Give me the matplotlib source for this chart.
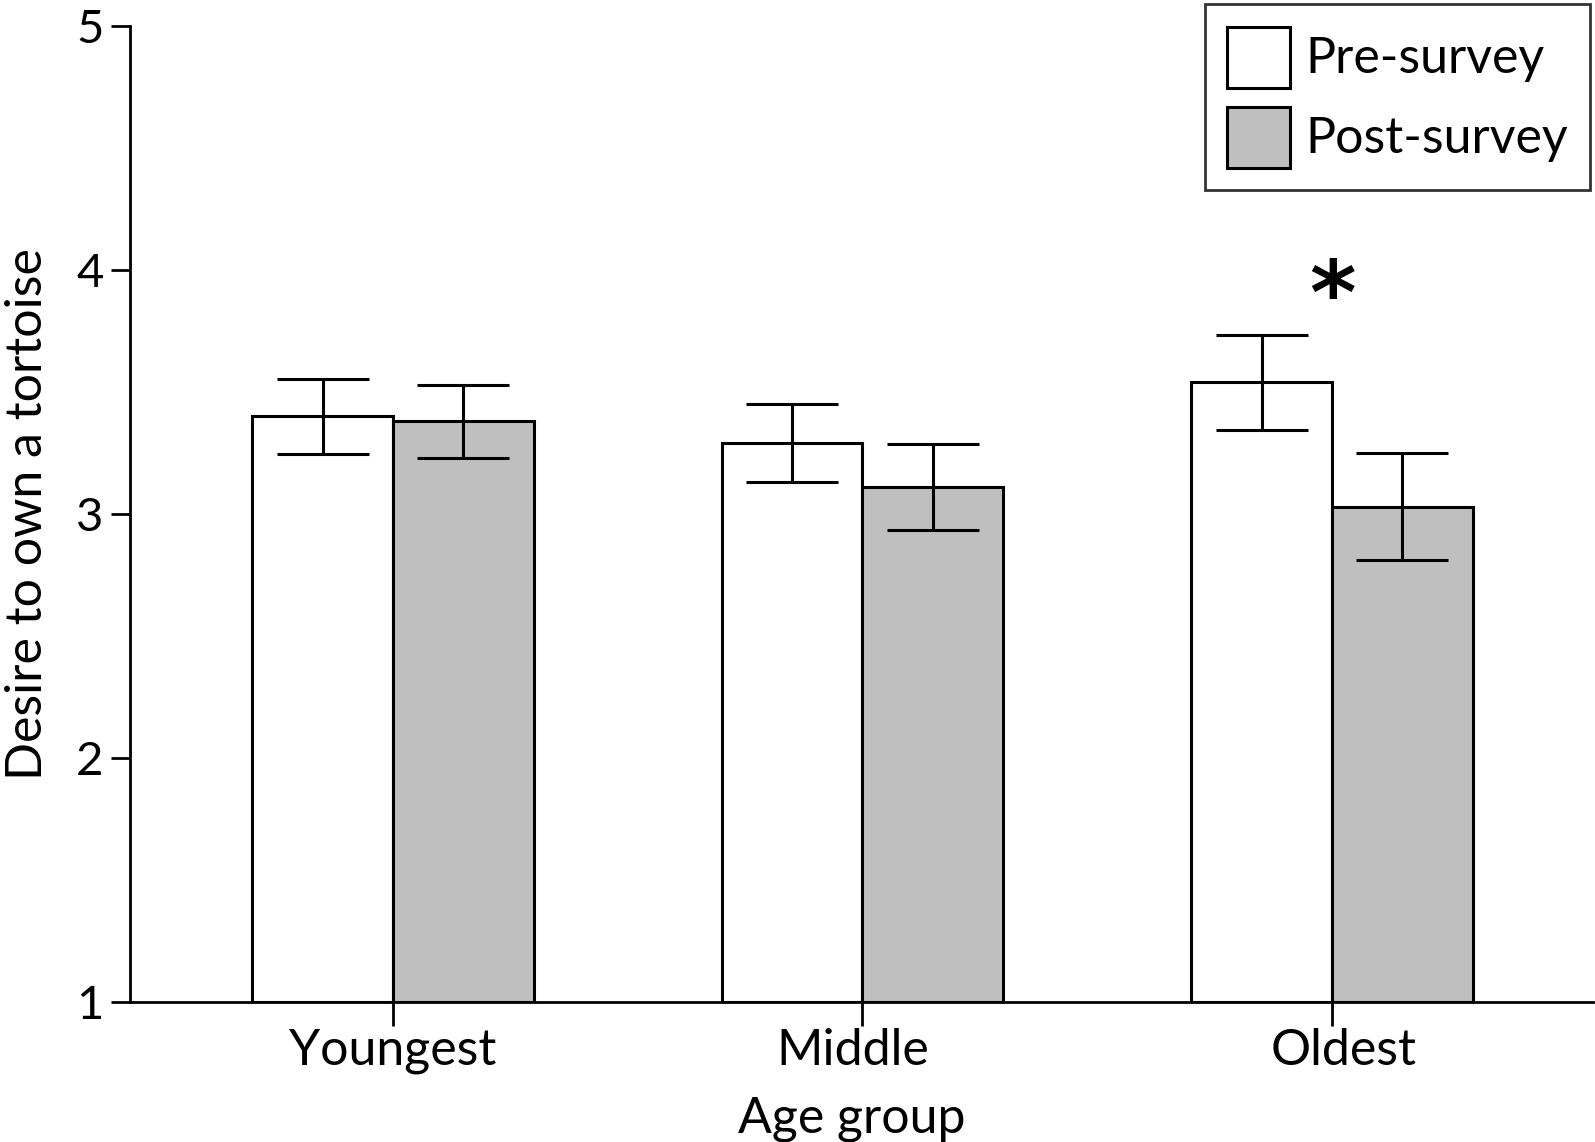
import matplotlib
matplotlib.use("Agg")
import matplotlib.pyplot as plt
import matplotlib.transforms as mtransforms
import numpy as np

categories = ["Youngest", "Middle", "Oldest"]
pre_values = [3.40, 3.29, 3.54]
post_values = [3.38, 3.11, 3.03]
pre_err = [0.155, 0.16, 0.195]
post_err = [0.15, 0.175, 0.22]
series_labels = ["Pre-survey", "Post-survey"]
y_ticks = [1, 2, 3, 4, 5]
star_value = 3.88

plt.rcParams['font.family'] = ['Lato', 'DejaVu Sans']

fig = plt.figure(figsize=(15.95, 11.42), dpi=100)
ax = fig.add_axes([130/1595, 1-1002/1142, (1593-130)/1595, (1002-26)/1142])

x = np.arange(len(categories))
w = 0.30
lw = 2.2
ax.bar(x - w/2, np.array(pre_values) - 1, w, bottom=1, color="white", edgecolor="black",
       linewidth=lw, label=series_labels[0], zorder=2)
ax.bar(x + w/2, np.array(post_values) - 1, w, bottom=1, color="#bfbfbf", edgecolor="black",
       linewidth=lw, label=series_labels[1], zorder=2)
ax.errorbar(x - w/2, pre_values, yerr=pre_err, fmt="none", ecolor="black",
            elinewidth=lw, capsize=33, capthick=lw, zorder=3)
ax.errorbar(x + w/2, post_values, yerr=post_err, fmt="none", ecolor="black",
            elinewidth=lw, capsize=33, capthick=lw, zorder=3)

ax.text(x[2], star_value, "*", ha="center", va="center", fontsize=64,
        fontweight="bold", family="DejaVu Sans")

ax.set_xlim(-0.560, 2.556)
ax.set_ylim(1, 5)
ax.set_yticks(y_ticks)
ax.set_yticklabels([str(t) for t in y_ticks])
ax.set_xticks(x)
ax.set_xticklabels(categories)
ax.tick_params(axis="y", labelsize=34, length=14, width=2, pad=5)
ax.tick_params(axis="x", labelsize=36, length=17, width=2, pad=2)
for s in ["top", "right"]:
    ax.spines[s].set_visible(False)
for s in ["left", "bottom"]:
    ax.spines[s].set_linewidth(2)

# small horizontal offsets of the category labels as in the reference
offsets_px = [0, -10, 12]
for lab, dx in zip(ax.get_xticklabels(), offsets_px):
    lab.set_transform(lab.get_transform() +
                      mtransforms.ScaledTranslation(dx / 100, 0, fig.dpi_scale_trans))

ax.set_xlabel("Age group", fontsize=36)
ax.xaxis.set_label_coords(0.4935, -0.096)
ax.set_ylabel("Desire to own a tortoise", fontsize=36, labelpad=18)

leg = fig.legend(loc="upper right", bbox_to_anchor=(1590/1595, 1-4/1142),
                 bbox_transform=fig.transFigure, fontsize=36, frameon=True,
                 fancybox=False, edgecolor="black", handlelength=1.25,
                 handleheight=1.5, labelspacing=0.38, handletextpad=0.3,
                 borderpad=0.45, borderaxespad=0)
leg.get_frame().set_linewidth(2)

fig.savefig("out.png", dpi=100, facecolor="white")
